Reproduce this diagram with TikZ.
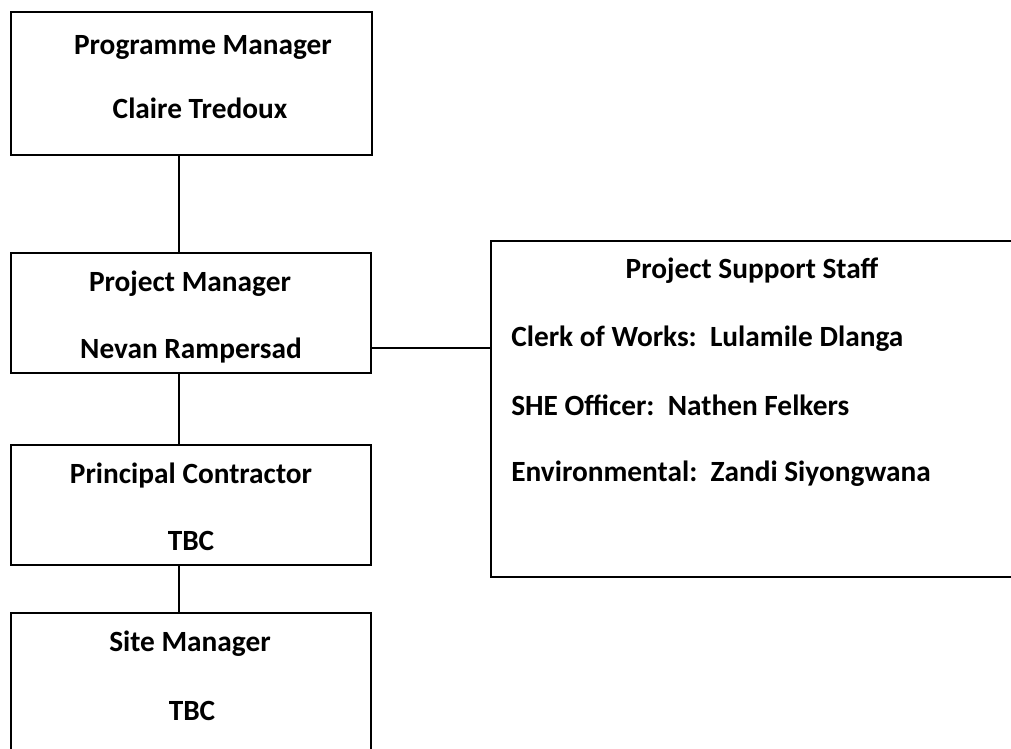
\documentclass[tikz,border=0pt]{standalone}
\usepackage{fontspec}
\setmainfont{Carlito}
\usetikzlibrary{fit}
\begin{document}
\begin{tikzpicture}[x=0.75pt,y=-0.75pt,
  box/.style={draw=black,line width=1.1pt,rectangle,inner sep=0pt},
  lbl/.style={inner sep=0pt,anchor=base,font=\fontsize{22}{26}\selectfont\bfseries},
  lbll/.style={lbl,anchor=base west},
  link/.style={draw=black,line width=1.1pt}]
\useasboundingbox (0,0) rectangle (1011,749);
% boxes
\node[box,fit={(11,12) (372,155)}] (pm) {};
\node[box,fit={(11,253) (371,373)}] (prj) {};
\node[box,fit={(11,445) (371,565)}] (pc) {};
\node[box,fit={(11,613) (371,775)}] (sm) {};
\node[box,fit={(491,241) (1040,577)}] (pss) {};
% texts
\node[lbl] (t1a) at (203,55) {Programme Manager};
\node[lbl] (t1b) at (200,118) {Claire Tredoux};
\node[lbl] (t2a) at (190,291.5) {Project Manager};
\node[lbl] (t2b) at (191,358) {Nevan Rampersad};
\node[lbl] (t3a) at (191,483) {Principal Contractor};
\node[lbl] (t3b) at (191,550) {TBC};
\node[lbl] (t4a) at (190,651.5) {Site Manager};
\node[lbl] (t4b) at (192,720) {TBC};
\node[lbl] (t5a) at (752,278) {Project Support Staff};
\node[lbll] (t5b) at (511,346.5) {Clerk of Works:~~Lulamile Dlanga};
\node[lbll] (t5c) at (511,415) {SHE Officer:~~Nathen Felkers};
\node[lbll] (t5d) at (511,481.5) {Environmental:~~Zandi Siyongwana};
% connectors
\coordinate (spine) at (179,0);
\coordinate (hl) at (0,348);
\draw[link] (pm.south -| spine) -- (prj.north -| spine);
\draw[link] (prj.south -| spine) -- (pc.north -| spine);
\draw[link] (pc.south -| spine) -- (sm.north -| spine);
\draw[link] (prj.east |- hl) -- (pss.west |- hl);
\end{tikzpicture}
\end{document}
